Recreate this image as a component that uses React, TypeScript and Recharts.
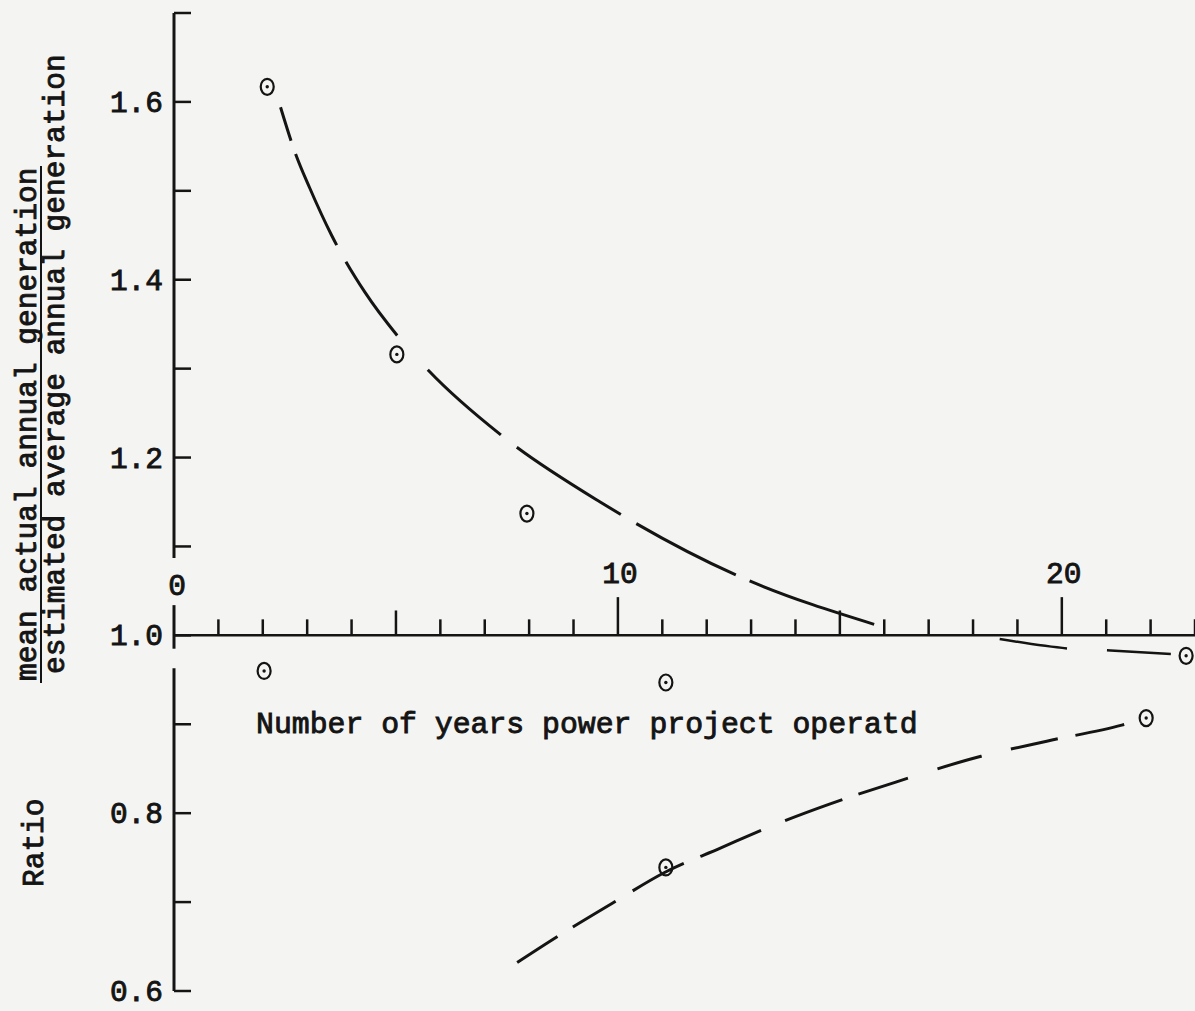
import React from 'react';
import {
  ComposedChart,
  XAxis,
  YAxis,
  Line,
  Scatter,
  ReferenceLine,
  ReferenceDot,
  Customized,
} from 'recharts';

const FONT = '"Liberation Mono", "DejaVu Sans Mono", monospace';
const INK = '#141414';
const PAPER = '#f4f4f2';

// Upper dashed curve (main part) and its tail near 1.0
const upperCurveX = [2.4, 2.75, 3.05, 3.55, 4.3, 5.05, 5.75, 7.4, 9.6, 12.7, 15.8];
const upperCurveY = [1.594, 1.54, 1.504, 1.45, 1.386, 1.336, 1.297, 1.224, 1.15, 1.067, 1.012];
const upperTailX = [18.6, 20.2, 21.1, 22.5];
const upperTailY = [0.996, 0.985, 0.983, 0.979];

// Lower dashed curve
const lowerCurveX = [7.73, 8.63, 9.95, 11.04, 12.32, 13.63, 14.75, 16.26, 18.18, 19.66, 21.35, 21.7];
const lowerCurveY = [0.632, 0.661, 0.701, 0.733, 0.761, 0.789, 0.81, 0.835, 0.864, 0.881, 0.899, 0.904];

// Observed points (circled dots)
const pointX = [2.1, 5.02, 7.95, 2.03, 11.08, 11.08, 21.9, 22.8];
const pointY = [1.617, 1.316, 1.137, 0.96, 0.947, 0.739, 0.907, 0.977];

// Axes
const xDomain = [0, 23];
const yDomain = [0.6, 1.7];
const xMinorTicks = [1, 2, 3, 4, 6, 7, 8, 9, 11, 12, 13, 14, 16, 17, 18, 19, 21, 22, 23];
const xMidTicks = [5, 15];
const xMajorTicks = [10, 20];
const xTickLabels = ['0', '10', '20'];
const yTicks = [0.6, 0.7, 0.8, 0.9, 1.0, 1.1, 1.2, 1.3, 1.4, 1.5, 1.6, 1.7];
const yTickLabels = ['0.6', '0.8', '1.0', '1.2', '1.4', '1.6'];
const axisCross = 1.0;
// drawn pieces of the vertical axis (typed line is broken where the "0" sits)
const yAxisPieces = [
  [0.6, 0.963],
  [0.985, 1.034],
  [1.087, 1.7],
];

const xTitle = 'Number of years power project operatd';
const yTitleNumerator = 'mean actual annual generation';
const yTitleDenominator = 'estimated average annual generation';
const yTitleWord = 'Ratio';

const zip = (xs: number[], ys: number[]) => xs.map((x, i) => ({ x, y: ys[i] }));
const upperData = zip(upperCurveX, upperCurveY);
const tailData = zip(upperTailX, upperTailY);
const lowerData = zip(lowerCurveX, lowerCurveY);
const pointData = zip(pointX, pointY);

const textStyle = {
  fontFamily: FONT,
  fontSize: 29.5,
  fill: INK,
  stroke: INK,
  strokeWidth: 0.9,
};

const renderYTick = (props: any) => {
  const { x, y, payload } = props;
  const v = payload.value as number;
  const label = yTickLabels.find((l) => Math.abs(parseFloat(l) - v) < 1e-6);
  return (
    <g>
      <line x1={x} y1={y} x2={x + 17} y2={y} stroke={INK} strokeWidth={2.5} />
      {label ? (
        <text x={x - 11} y={y} dy="0.34em" textAnchor="end" style={textStyle}>
          {label}
        </text>
      ) : null}
    </g>
  );
};

const renderPoint = (props: any) => {
  const { cx, cy } = props;
  return (
    <g>
      <ellipse cx={cx} cy={cy} rx={6.5} ry={8} fill="none" stroke={INK} strokeWidth={2.2} />
      <circle cx={cx} cy={cy} r={1.7} fill={INK} />
    </g>
  );
};

const Titles = () => (
  <g>
    <text transform="translate(36,681) rotate(-90)" style={textStyle}>
      {yTitleNumerator}
    </text>
    <line x1={41} y1={683} x2={41} y2={166} stroke={INK} strokeWidth={2} />
    <text transform="translate(64,674) rotate(-90)" style={textStyle}>
      {yTitleDenominator}
    </text>
    <text transform="translate(43,887) rotate(-90)" style={textStyle}>
      {yTitleWord}
    </text>
    <text x={256} y={733} style={{ ...textStyle, fontSize: 29.8 }}>
      {xTitle}
    </text>
  </g>
);

const xTickLabelContent = (label: string) => (props: any) => {
  const { viewBox } = props;
  const cx = viewBox.x + viewBox.width / 2;
  const cy = viewBox.y + viewBox.height / 2;
  const lift = label === '0' ? 40 : 52;
  return (
    <text x={cx + (label === '0' ? 3 : 2)} y={cy - lift} textAnchor="middle" style={textStyle}>
      {label}
    </text>
  );
};

export default function App() {
  return (
    <div
      style={{
        position: 'fixed',
        left: 0,
        top: 0,
        width: 1195,
        height: 1011,
        background: PAPER,
        overflow: 'hidden',
      }}
    >
      <ComposedChart
        width={1195}
        height={1011}
        margin={{ top: 13, right: 0, bottom: 20, left: 0 }}
      >
        <XAxis type="number" dataKey="x" domain={xDomain} hide allowDataOverflow />
        <YAxis
          type="number"
          dataKey="y"
          domain={yDomain}
          ticks={yTicks}
          interval={0}
          width={174}
          tickSize={0}
          tickMargin={0}
          tickLine={false}
          axisLine={false}
          tick={renderYTick}
          allowDataOverflow
        />

        {yAxisPieces.map(([a, b]) => (
          <ReferenceLine
            key={'ya' + a}
            segment={[{ x: 0, y: a }, { x: 0, y: b }]}
            stroke={INK}
            strokeWidth={3}
            ifOverflow="visible"
          />
        ))}
        <ReferenceLine y={axisCross} stroke={INK} strokeWidth={2.5} ifOverflow="visible" />
        {xMinorTicks.map((t) => (
          <ReferenceLine
            key={'mi' + t}
            segment={[{ x: t, y: axisCross }, { x: t, y: axisCross + 0.018 }]}
            stroke={INK}
            strokeWidth={2.5}
            ifOverflow="visible"
          />
        ))}
        {xMidTicks.map((t) => (
          <ReferenceLine
            key={'md' + t}
            segment={[{ x: t, y: axisCross }, { x: t, y: axisCross + 0.028 }]}
            stroke={INK}
            strokeWidth={2.5}
            ifOverflow="visible"
          />
        ))}
        {xMajorTicks.map((t) => (
          <ReferenceLine
            key={'mj' + t}
            segment={[{ x: t, y: axisCross }, { x: t, y: axisCross + 0.043 }]}
            stroke={INK}
            strokeWidth={2.5}
            ifOverflow="visible"
          />
        ))}
        {xTickLabels.map((l) => (
          <ReferenceDot
            key={'lb' + l}
            x={parseFloat(l)}
            y={axisCross}
            r={0}
            fill="none"
            stroke="none"
            ifOverflow="visible"
            label={{ content: xTickLabelContent(l) }}
          />
        ))}

        <Line
          data={upperData}
          dataKey="y"
          type="monotone"
          stroke={INK}
          strokeWidth={3}
          strokeDasharray="35 14 100 19 90 46 98 20 124 18 112 15 132 40"
          dot={false}
          activeDot={false}
          isAnimationActive={false}
        />
        <Line
          data={tailData}
          dataKey="y"
          type="monotone"
          stroke={INK}
          strokeWidth={2.5}
          strokeDasharray="68 40 64 60"
          dot={false}
          activeDot={false}
          isAnimationActive={false}
        />
        <Line
          data={lowerData}
          dataKey="y"
          type="monotone"
          stroke={INK}
          strokeWidth={3}
          strokeDasharray="48 18 50 20 58 18 66 26 61 17 52 31 46 30"
          dot={false}
          activeDot={false}
          isAnimationActive={false}
        />
        <Scatter data={pointData} dataKey="y" shape={renderPoint} isAnimationActive={false} />

        <Customized component={Titles} />
      </ComposedChart>
    </div>
  );
}
